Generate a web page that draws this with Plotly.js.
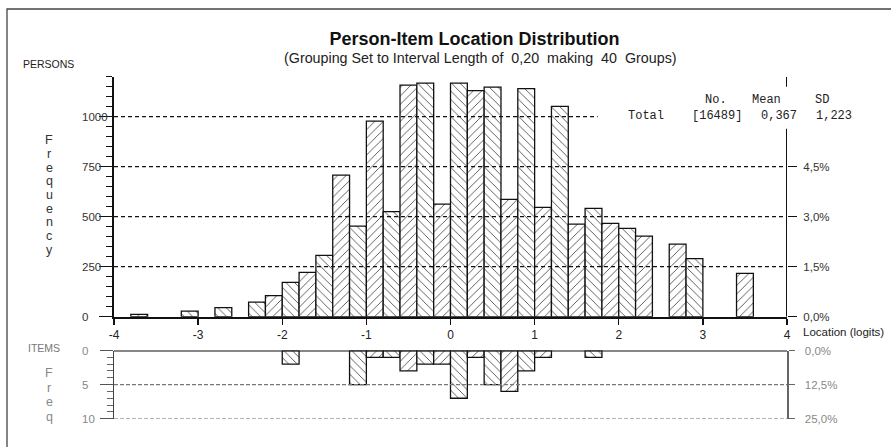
<!DOCTYPE html>
<html>
<head>
<meta charset="utf-8">
<script src="https://cdn.plot.ly/plotly-3.0.1.min.js"></script>
<style>html,body{margin:0;padding:0;background:#fff;}#chart{width:891px;height:447px;}</style>
</head>
<body>
<div id="chart"></div>
<script>
// ---- data ----
const intervalLength = 0.20;
const groupStart = -4;
const personCounts = [0,12,0,0,28,0,45,0,73,105,172,222,307,708,453,978,525,1158,1168,563,
                      1168,1130,1148,587,1140,547,1052,463,542,467,442,403,0,363,290,0,0,217,0,0];
const itemCounts   = [0,0,0,0,0,0,0,0,0,0,2,0,0,0,5,1,1,3,2,2,
                      7,1,5,6,3,1,0,0,1,0,0,0,0,0,0,0,0,0,0,0];
const xTicks = [-4,-3,-2,-1,0,1,2,3,4];
const xTickText = ['-4','-3','-2','-1','0','1','2','3','4'];
const personTicks = [0,250,500,750,1000];
const personPctTicks = [0,250,500,750];
const personPctText = ['0,0%','1,5%','3,0%','4,5%'];
const itemTicks = [0,5,10];
const itemPctText = ['0,0%','12,5%','25,0%'];
const statsHeader = ['No.','Mean','SD'];
const statsRow = ['Total','[16489]','0,367','1,223'];

// bin centres from the grouping definition
const binCenters = personCounts.map((_, i) => groupStart + intervalLength * (i + 0.5));
const patterns = personCounts.map((_, i) => (i % 2 === 0 ? '\\' : '/'));
const nz = a => a.map(v => (v === 0 ? null : v));

// ---- geometry (pixels -> paper) ----
const W = 891, H = 447, L = 114, R = 787;
const px = x => (x - L) / (R - L);
const py = y => (H - y) / H;

const FONT = 'Liberation Sans, Arial, sans-serif';
const MONO = 'Liberation Mono, Courier New, monospace';

const barStyle = {
  color: '#ffffff',
  line: {color: '#111', width: 1.3},
  pattern: {shape: patterns, fgcolor: '#333', bgcolor: '#fff', size: 6, solidity: 0.13}
};

const traces = [
  {type: 'bar', x: binCenters, y: nz(personCounts), width: intervalLength, xaxis: 'x', yaxis: 'y',
   marker: barStyle, hoverinfo: 'x+y', showlegend: false},
  {type: 'bar', x: binCenters, y: nz(itemCounts), width: intervalLength, xaxis: 'x2', yaxis: 'y2',
   marker: barStyle, hoverinfo: 'x+y', showlegend: false},
  // empty traces so the right-hand percentage axes are drawn
  {type: 'scatter', mode: 'markers', x: [null], y: [null], xaxis: 'x', yaxis: 'y3', showlegend: false, hoverinfo: 'skip'},
  {type: 'scatter', mode: 'markers', x: [null], y: [null], xaxis: 'x2', yaxis: 'y4', showlegend: false, hoverinfo: 'skip'}
];

const shapes = [];
// dashed grid lines (persons)
personTicks.slice(1).forEach(v => {
  shapes.push({type: 'line', xref: 'x', yref: 'y', x0: -4, x1: v === 1000 ? 1.75 : 4, y0: v, y1: v,
               line: {color: '#111', width: 1.3, dash: '4px,3px'}, layer: 'above'});
});
// right axis line (persons), interrupted by stats text
shapes.push({type: 'line', xref: 'x', yref: 'y', x0: 4, x1: 4, y0: 0, y1: 940, line: {color: '#111', width: 2}});
shapes.push({type: 'line', xref: 'x', yref: 'y', x0: 4, x1: 4, y0: 1150, y1: 1200, line: {color: '#111', width: 2}});
// items grid lines
itemTicks.slice(1).forEach(v => {
  shapes.push({type: 'line', xref: 'x2', yref: 'y2', x0: -4, x1: 4, y0: v, y1: v,
               line: {color: '#777', width: 1.1, dash: '4px,2px'}, layer: 'above'});
});
// items zero line
shapes.push({type: 'line', xref: 'x2', yref: 'y2', x0: -4, x1: 4, y0: 0, y1: 0, line: {color: '#111', width: 2}, layer: 'above'});
// frame
shapes.push({type: 'rect', xref: 'paper', yref: 'paper', x0: px(7), x1: px(905), y0: py(9), y1: py(460),
             line: {color: '#444', width: 1.3}});

const annotations = [];
const ann = (o) => annotations.push(Object.assign({showarrow: false, xref: 'paper', yref: 'paper'}, o));
// subtitle
ann({text: '(Grouping Set to Interval Length of\u00A0 0,20\u00A0 making\u00A0 40\u00A0 Groups)', x: px(481), y: py(57.5),
     xanchor: 'center', yanchor: 'middle', font: {family: FONT, size: 14.3, color: '#222'}});
// persons labels
ann({text: 'PERSONS', x: px(20.5), y: py(64), xanchor: 'left', yanchor: 'middle', font: {family: FONT, size: 10.5, color: '#222'}});
'Frequency'.split('').forEach((c, i) => ann({text: c, x: px(49.3), y: py(140 + 13.75 * i), xanchor: 'center', yanchor: 'middle',
     font: {family: FONT, size: 12.5, color: '#333'}}));
personTicks.forEach(v => ann({text: String(v), x: px(80), yref: 'y', y: v, xanchor: 'left', yanchor: 'middle',
     font: {family: FONT, size: 11.5, color: '#333'}}));
// items labels
ann({text: 'ITEMS', x: px(26), y: py(348.3), xanchor: 'left', yanchor: 'middle', font: {family: FONT, size: 10.5, color: '#777'}});
'Freq'.split('').forEach((c, i) => ann({text: c, x: px(49), y: py(373 + 14.67 * i), xanchor: 'center', yanchor: 'middle',
     font: {family: FONT, size: 12.5, color: '#888'}}));
itemTicks.forEach(v => ann({text: String(v), x: px(80), yref: 'y2', y: v, xanchor: 'left', yanchor: 'middle',
     font: {family: FONT, size: 11.5, color: '#888'}}));
// axis title
ann({text: 'Location (logits)', x: px(801), y: py(331.5), xanchor: 'left', yanchor: 'middle', font: {family: FONT, size: 11.5, color: '#222'}});
// stats
const hdrX = [703, 750, 813];
statsHeader.forEach((t, i) => ann({text: t, x: px(hdrX[i]), y: py(99.5), xanchor: 'left', yanchor: 'middle',
     font: {family: MONO, size: 12, color: '#222'}}));
const rowX = [626, 690, 759, 814];
statsRow.forEach((t, i) => ann({text: t, x: px(rowX[i]), y: py(115.5), xanchor: 'left', yanchor: 'middle',
     font: {family: MONO, size: 12, color: '#222'}}));

const layout = {
  width: W, height: H,
  margin: {l: L, r: W - R, t: 0, b: 0, pad: 0},
  paper_bgcolor: '#fff', plot_bgcolor: 'rgba(0,0,0,0)',
  bargap: 0,
  title: {text: '<b>Person-Item Location Distribution</b>', xref: 'container', yref: 'container',
          x: 474.5 / W, y: py(38.5), xanchor: 'center', yanchor: 'middle',
          font: {family: FONT, size: 18, color: '#111'}},
  xaxis: {domain: [0, 1], range: [-4, 4], anchor: 'y', tickmode: 'array', tickvals: xTicks, ticktext: xTickText,
          ticks: 'outside', ticklen: 6, tickwidth: 1.3, tickcolor: '#111', showline: true, linecolor: '#111', linewidth: 2,
          showgrid: false, zeroline: false, tickfont: {family: FONT, size: 12, color: '#222'}, fixedrange: true},
  yaxis: {domain: [py(316.7), py(76.7)], range: [0, 1200], anchor: 'x', tickmode: 'linear', tick0: 0, dtick: 250,
          ticks: 'outside', ticklen: 13, tickwidth: 1.3, tickcolor: '#111', showline: true, linecolor: '#111', linewidth: 2,
          showticklabels: false, showgrid: false, zeroline: false,
          minor: {tickmode: 'linear', tick0: 0, dtick: 50, ticks: 'outside', ticklen: 6, tickwidth: 1, tickcolor: '#111', showgrid: false}},
  yaxis3: {overlaying: 'y', side: 'right', anchor: 'x', range: [0, 1200], tickmode: 'array', tickvals: personPctTicks,
           ticktext: personPctText, ticks: 'outside', ticklen: 9, tickwidth: 1.3, tickcolor: '#111', showline: false,
           showgrid: false, zeroline: false, ticklabelstandoff: 4, tickfont: {family: FONT, size: 11.5, color: '#333'}},
  xaxis2: {domain: [0, 1], range: [-4, 4], anchor: 'y2', visible: false},
  yaxis2: {domain: [py(418.7), py(350.5)], range: [10, 0], anchor: 'x2', tickmode: 'linear', tick0: 0, dtick: 5,
           ticks: 'outside', ticklen: 13, tickwidth: 1.2, tickcolor: '#555', showline: true, linecolor: '#444', linewidth: 1.5,
           showticklabels: false, showgrid: false, zeroline: false,
           minor: {tickmode: 'linear', tick0: 0, dtick: 1, ticks: 'outside', ticklen: 6, tickwidth: 1, tickcolor: '#666', showgrid: false}},
  yaxis4: {overlaying: 'y2', side: 'right', anchor: 'x2', range: [10, 0], tickmode: 'array', tickvals: itemTicks,
           ticktext: itemPctText, ticks: 'outside', ticklen: 6, tickwidth: 1.2, tickcolor: '#666', showline: true,
           linecolor: '#666', linewidth: 1.5, showgrid: false, zeroline: false, ticklabelstandoff: 8,
           tickfont: {family: FONT, size: 11.5, color: '#888'}},
  shapes: shapes,
  annotations: annotations
};

Plotly.newPlot('chart', traces, layout, {displayModeBar: false, staticPlot: true});
</script>
</body>
</html>
